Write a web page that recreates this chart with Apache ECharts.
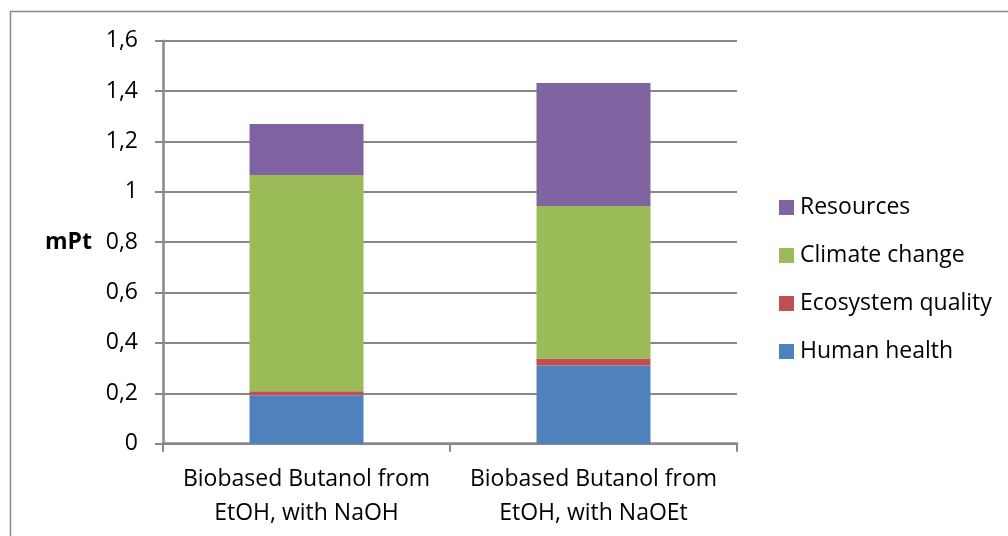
<!DOCTYPE html>
<html>
<head>
<meta charset="utf-8">
<script src="https://cdn.jsdelivr.net/npm/echarts@6/dist/echarts.min.js"></script>
<style>html,body{margin:0;padding:0;background:#fff}#c{width:1008px;height:536px}</style>
</head>
<body>
<div id="c"></div>
<script>
var categories = ['Biobased Butanol from\nEtOH, with NaOH', 'Biobased Butanol from\nEtOH, with NaOEt'];
var humanHealth = [0.192, 0.310];
var ecosystemQuality = [0.016, 0.028];
var climateChange = [0.859, 0.606];
var resources = [0.202, 0.488];
var legendOrder = ['Resources', 'Climate change', 'Ecosystem quality', 'Human health'];

var FONT = 'Open Sans';
var FS = 23;
var chart = echarts.init(document.getElementById('c'), null, {renderer: 'canvas'});
function fmt(v){ return String(parseFloat(v.toFixed(1))).replace('.', ','); }
function bar(name, data, color){
  return {name: name, type: 'bar', stack: 'total', data: data, barWidth: 114,
    itemStyle: {color: color}, emphasis: {disabled: true}};
}
chart.setOption({
  animation: false,
  textStyle: {fontFamily: FONT, color: '#000'},
  graphic: [{type: 'rect', shape: {x: 10.5, y: 11.5, width: 1100, height: 700},
    style: {fill: 'none', stroke: '#888', lineWidth: 1.5}, silent: true}],
  grid: {left: 163, right: 271, top: 40.7, bottom: 92.3, containLabel: false},
  legend: {
    orient: 'vertical', left: 774, top: 191, itemWidth: 15, itemHeight: 15, itemGap: 25,
    icon: 'rect', data: legendOrder,
    textStyle: {fontFamily: FONT, fontSize: FS, color: '#000', lineHeight: 20, padding: [0,0,0,1]}
  },
  xAxis: {
    type: 'category', data: categories, boundaryGap: true,
    axisLine: {lineStyle: {color: '#888', width: 2.5}},
    axisTick: {show: true, length: 8, alignWithLabel: false, lineStyle: {color: '#888', width: 2}},
    axisLabel: {fontFamily: FONT, fontSize: FS, color: '#000', lineHeight: 34, margin: 19, interval: 0}
  },
  yAxis: {
    type: 'value', min: 0, max: 1.6, interval: 0.2,
    name: 'mPt', nameLocation: 'middle', nameRotate: 0, nameGap: 71,
    nameTextStyle: {fontFamily: FONT, fontSize: FS, fontWeight: 'bold', color: '#000'},
    axisLine: {show: true, lineStyle: {color: '#888', width: 2.5}},
    axisTick: {show: true, length: 8, lineStyle: {color: '#888', width: 2}},
    axisLabel: {fontFamily: FONT, fontSize: FS, color: '#000', margin: 25, formatter: fmt},
    splitLine: {show: true, lineStyle: {color: '#888', width: 2}}
  },
  series: [
    bar('Human health', humanHealth, '#4f81bd'),
    bar('Ecosystem quality', ecosystemQuality, '#c0504d'),
    bar('Climate change', climateChange, '#9bbb59'),
    bar('Resources', resources, '#8064a2')
  ]
});
</script>
</body>
</html>
